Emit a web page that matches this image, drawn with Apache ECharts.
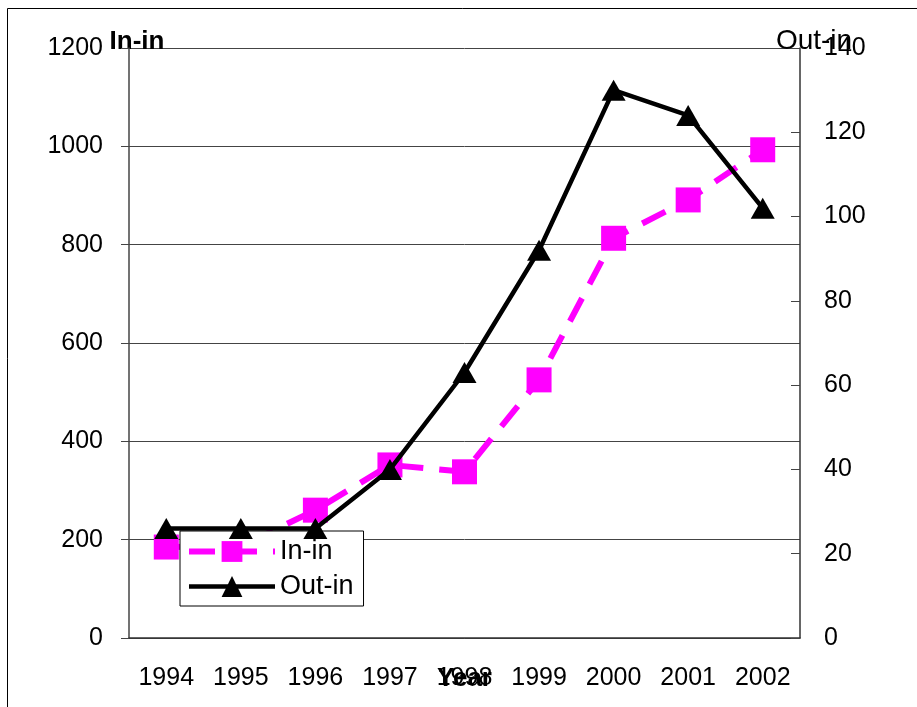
<!DOCTYPE html>
<html>
<head>
<meta charset="utf-8">
<script src="https://cdn.jsdelivr.net/npm/echarts@6/dist/echarts.min.js"></script>
<style>html,body{margin:0;padding:0;background:#fff;}#c{width:917px;height:707px;}</style>
</head>
<body>
<div id="c"></div>
<script>
const years = ['1994','1995','1996','1997','1998','1999','2000','2001','2002'];
const inIn = [185, 187, 260, 352, 338, 525, 813, 891, 993];
const outIn = [26, 26, 26, 40, 63, 92, 130, 124, 102];
const leftTicks = {min: 0, max: 1200, interval: 200};
const rightTicks = {min: 0, max: 140, interval: 20};

const FONT = '"Liberation Sans", Arial, sans-serif';
const inDash = [26, 16];
const chart = echarts.init(document.getElementById('c'));
chart.setOption({
  animation: false,
  backgroundColor: '#fff',
  textStyle: {fontFamily: FONT, color: '#000'},
  graphic: [{
    type: 'rect', silent: true, z: -10,
    shape: {x: 7.5, y: 8.5, width: 960, height: 760},
    style: {fill: 'none', stroke: '#000', lineWidth: 1}
  }],
  grid: {left: 129, right: 117, top: 48, bottom: 69, outerBoundsMode: 'none', containLabel: false},
  legend: {
    orient: 'vertical', left: 180, top: 531,
    padding: [7, 10, 6, 6], itemGap: 8,
    itemWidth: 86, itemHeight: 26,
    backgroundColor: '#fff', borderColor: '#000', borderWidth: 1,
    textStyle: {fontFamily: FONT, fontSize: 27, color: '#000'},
    data: [
      {name: 'In-in', lineStyle: {color: '#FF00FF', width: 6, type: inDash}},
      {name: 'Out-in', lineStyle: {color: '#000', width: 4.5}}
    ]
  },
  xAxis: {
    type: 'category', data: years, boundaryGap: true,
    name: 'Year', nameLocation: 'middle', nameGap: 28, nameMoveOverlap: false,
    nameTextStyle: {fontFamily: FONT, fontSize: 26, fontWeight: 'bold', color: '#000', verticalAlign: 'top'},
    axisLine: {lineStyle: {color: '#333', width: 1.5}},
    axisTick: {inside: true, length: 9, lineStyle: {color: '#333'}},
    axisLabel: {fontFamily: FONT, fontSize: 25, color: '#000', margin: 28, interval: 0}
  },
  yAxis: [{
    type: 'value', position: 'left', min: leftTicks.min, max: leftTicks.max, interval: leftTicks.interval,
    name: 'In-in', nameLocation: 'end', nameGap: -7, nameMoveOverlap: false,
    nameTextStyle: {fontFamily: FONT, fontSize: 26, fontWeight: 'bold', color: '#000', padding: [0, 0, 0, 16]},
    axisLine: {show: true, lineStyle: {color: '#444', width: 1.5}},
    axisTick: {show: true, inside: false, length: 8, lineStyle: {color: '#444'}},
    axisLabel: {fontFamily: FONT, fontSize: 25, color: '#000', margin: 26, formatter: v => String(v)},
    splitLine: {show: true, lineStyle: {color: '#444', width: 1}}
  }, {
    type: 'value', position: 'right', min: rightTicks.min, max: rightTicks.max, interval: rightTicks.interval,
    name: 'Out-in', nameLocation: 'end', nameGap: -7, nameMoveOverlap: false,
    nameTextStyle: {fontFamily: FONT, fontSize: 28, fontWeight: 'normal', color: '#000', padding: [0, 0, 0, 28]},
    axisLine: {show: true, lineStyle: {color: '#333', width: 1.5}},
    axisTick: {show: true, inside: true, length: 9, lineStyle: {color: '#444'}},
    axisLabel: {fontFamily: FONT, fontSize: 25, color: '#000', margin: 24, formatter: v => String(v)},
    splitLine: {show: false}
  }],
  series: [{
    name: 'In-in', type: 'line', yAxisIndex: 0, data: inIn,
    symbol: 'rect', symbolSize: 25, showAllSymbol: true,
    lineStyle: {color: '#FF00FF', width: 6, type: inDash},
    itemStyle: {color: '#FF00FF'}, z: 3
  }, {
    name: 'Out-in', type: 'line', yAxisIndex: 1, data: outIn,
    symbol: 'triangle', symbolSize: [24, 21], showAllSymbol: true,
    lineStyle: {color: '#000', width: 4.5},
    itemStyle: {color: '#000'}, z: 4
  }]
});
</script>
</body>
</html>
